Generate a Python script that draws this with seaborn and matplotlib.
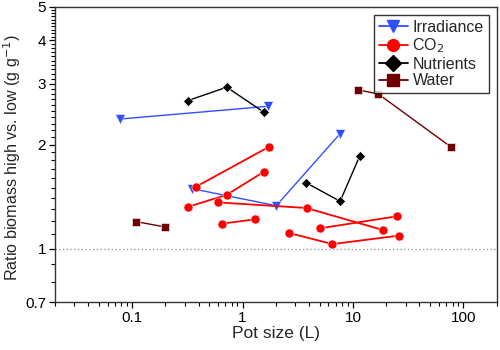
import matplotlib
matplotlib.use("Agg")
import matplotlib.pyplot as plt
import matplotlib.ticker as mticker
from matplotlib.lines import Line2D
import pandas as pd
import seaborn as sns
import numpy as np

# Each list is one experiment (pot sizes in L, biomass ratio high/low)
irradiance_x = [[0.078, 1.70], [0.35, 2.02, 7.66]]
irradiance_y = [[2.37, 2.58], [1.49, 1.33, 2.15]]

co2_x = [[0.38, 1.74], [0.32, 0.72, 1.57], [0.60, 3.80, 18.9],
         [0.65, 1.30], [5.05, 25.1], [2.61, 6.53, 26.2]]
co2_y = [[1.51, 1.97], [1.32, 1.43, 1.67], [1.36, 1.31, 1.13],
         [1.18, 1.215], [1.144, 1.24], [1.11, 1.03, 1.09]]

nutrients_x = [[0.32, 0.72, 1.56], [3.77, 7.66, 11.5]]
nutrients_y = [[2.68, 2.93, 2.48], [1.55, 1.37, 1.85]]

water_x = [[11.1, 17.0, 76.9], [0.109, 0.20]]
water_y = [[2.88, 2.80, 1.97], [1.196, 1.154]]

factors = ["Irradiance", "CO$_2$", "Nutrients", "Water"]
colores = {"Irradiance": "#3050ff", "CO$_2$": "#ff0000",
           "Nutrients": "#000000", "Water": "#6e0000"}
marcadores = {"Irradiance": "v", "CO$_2$": "o", "Nutrients": "D", "Water": "s"}
tamanos = {"Irradiance": 6.5, "CO$_2$": 6.5, "Nutrients": 5.5, "Water": 5.5}
grosor = {"Irradiance": 1.0, "CO$_2$": 1.3, "Nutrients": 1.0, "Water": 1.0}


def armar_dataframe():
    filas = []
    grupos = [irradiance_x, co2_x, nutrients_x, water_x]
    valores = [irradiance_y, co2_y, nutrients_y, water_y]
    for fac, gx, gy in zip(factors, grupos, valores):
        for k, (xs, ys) in enumerate(zip(gx, gy)):
            for i, (x, y) in enumerate(zip(xs, ys)):
                filas.append({"factor": fac, "grupo": f"{fac}-{k}", "orden": i,
                              "pot": x, "ratio": y})
    return pd.DataFrame(filas)


data = armar_dataframe()

sns.set_style("ticks")
plt.rcParams["font.family"] = ["Liberation Sans", "DejaVu Sans"]
plt.rcParams.update({"font.size": 11})

fig = plt.figure(figsize=(5, 3.5), dpi=100)
ax = fig.add_axes([0.11, 0.137, 0.883, 0.843])

ax.axhline(1, color="#888888", ls=(0, (1, 2)), lw=0.9, zorder=1)

for fac in factors:
    sub = data[data["factor"] == fac]
    sns.lineplot(data=sub, x="pot", y="ratio", units="grupo", estimator=None,
                 sort=False, color=colores[fac], marker=marcadores[fac],
                 markersize=tamanos[fac], markeredgecolor="white",
                 markeredgewidth=0.4, lw=grosor[fac], ax=ax, label=fac,
                 legend=False, zorder=3)

ax.set_xscale("log")
ax.set_yscale("log")
ax.set_xlim(0.02, 200)
ax.set_ylim(0.7, 5)

ax.xaxis.set_major_locator(mticker.FixedLocator([0.1, 1, 10, 100]))
ax.xaxis.set_major_formatter(mticker.FixedFormatter(["0.1", "1", "10", "100"]))
ax.xaxis.set_minor_locator(mticker.LogLocator(base=10, subs=np.arange(2, 10)))
ax.xaxis.set_minor_formatter(mticker.NullFormatter())

ax.yaxis.set_major_locator(mticker.FixedLocator([0.7, 1, 2, 3, 4, 5]))
ax.yaxis.set_major_formatter(mticker.FixedFormatter(["0.7", "1", "2", "3", "4", "5"]))
ax.yaxis.set_minor_locator(mticker.FixedLocator(np.round(np.arange(0.7, 5.01, 0.1), 2)))
ax.yaxis.set_minor_formatter(mticker.NullFormatter())

ax.tick_params(axis="both", which="major", direction="out", length=4.5, width=0.9,
               labelsize=11, colors="black", pad=2)
ax.tick_params(axis="both", which="minor", direction="out", length=2.8, width=0.8,
               color="black")
for s in ax.spines.values():
    s.set_linewidth(1.0)
    s.set_color("#333333")

ax.set_xlabel("Pot size (L)", fontsize=12.5, labelpad=1)
ax.set_ylabel("Ratio biomass high vs. low (g g$^{-1}$)", fontsize=11.6)
ax.yaxis.set_label_coords(-0.072, 0.49)

handles = [Line2D([], [], color=colores[f], marker=marcadores[f], markersize=8.5,
                  lw=1.3) for f in factors]
leg = ax.legend(handles, factors, loc="upper right", frameon=True, fancybox=False,
                edgecolor="black", fontsize=11.5, handlelength=1.8,
                handletextpad=0.3, borderpad=0.3, labelspacing=0.1,
                borderaxespad=0.5)
leg.get_frame().set_linewidth(1.0)

plt.savefig("out.png", dpi=100)
plt.close()
